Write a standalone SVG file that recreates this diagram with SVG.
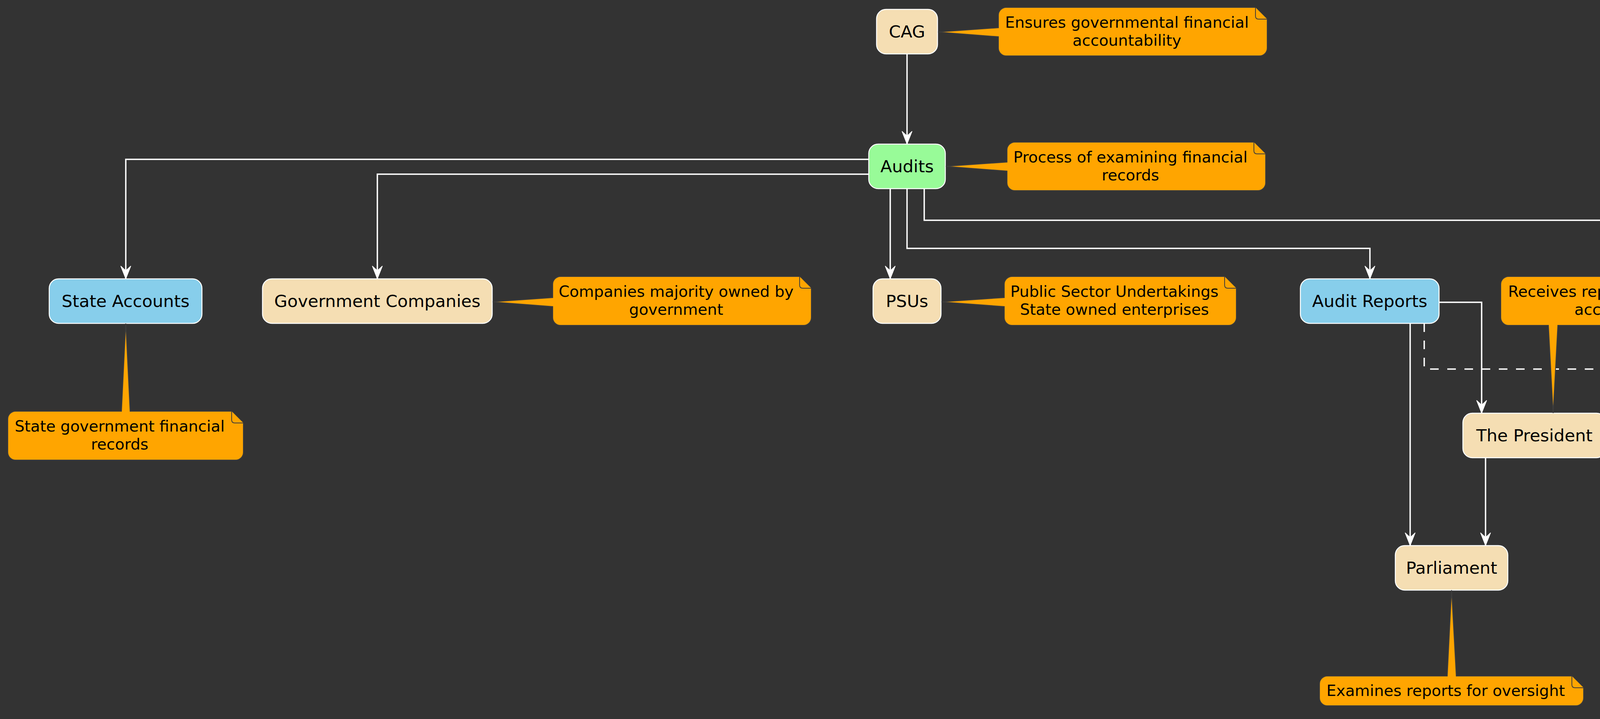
<svg xmlns="http://www.w3.org/2000/svg" width="5988" height="1841" viewBox="0 0 5988 1841">
<defs>
<style>
.node rect{stroke:#ffffff;stroke-width:2.5}
.node text{font-family:"DejaVu Sans","Liberation Sans",sans-serif;font-size:43.5px;fill:#000;text-anchor:middle}
.wheat{fill:#F5DEB3}
.sky{fill:#87CEEB}
.green{fill:#98FB98}
.note path.body{fill:#FFA500;stroke:#3d3d3d;stroke-width:2}
.note path.fold{fill:#FFA500;stroke:#3d3d3d;stroke-width:2}
.note text{font-family:"DejaVu Sans","Liberation Sans",sans-serif;font-size:39.5px;fill:#000;text-anchor:middle}
.edge{fill:none;stroke:#ffffff;stroke-width:3.5}
.dash{fill:none;stroke:#ffffff;stroke-width:3.5;stroke-dasharray:22 22}
</style>
<marker id="ah" markerUnits="userSpaceOnUse" markerWidth="38" markerHeight="32" viewBox="-36 -16 38 32" refX="0" refY="0" orient="auto">
<path d="M0,0 L-33,-13 L-21,0 L-33,13 Z" fill="#ffffff" stroke="#ffffff" stroke-width="1.5"/>
</marker>
</defs>
<rect x="0" y="0" width="5988" height="1841" fill="#333333"/>

<g id="connectors">
<path class="edge" d="M2322,138 L2322,369" marker-end="url(#ah)"/>
<path class="edge" d="M2224,408 L322,408 L322,714" marker-end="url(#ah)"/>
<path class="edge" d="M2224,446 L966,446 L966,714" marker-end="url(#ah)"/>
<path class="edge" d="M2279,483 L2279,714" marker-end="url(#ah)"/>
<path class="edge" d="M2322,483 L2322,636 L3507,636 L3507,714" marker-end="url(#ah)"/>
<path class="edge" d="M2366,483 L2366,564 L5565,564 L5565,714" marker-end="url(#ah)"/>
<path class="edge" d="M3684,774 L3793,774 L3793,1058" marker-end="url(#ah)"/>
<path class="edge" d="M3610,828 L3610,1397" marker-end="url(#ah)"/>
<path class="edge" d="M3803,1172 L3803,1397" marker-end="url(#ah)"/>
<path class="dash" d="M3646,828 L3646,945 L4929,945 L4929,833"/>
</g>

<g id="node-cag" class="node">
<rect class="wheat" x="2244" y="24" width="156" height="114" rx="24"/>
<text x="2322" y="96">CAG</text>
</g>
<g id="node-audits" class="node">
<rect class="green" x="2224" y="369" width="196" height="114" rx="24"/>
<text x="2322" y="441">Audits</text>
</g>
<g id="node-state-accounts" class="node">
<rect class="sky" x="126" y="714" width="391" height="114" rx="24"/>
<text x="321.5" y="786">State Accounts</text>
</g>
<g id="node-government-companies" class="node">
<rect class="wheat" x="672" y="714" width="588" height="114" rx="24"/>
<text x="966" y="786">Government Companies</text>
</g>
<g id="node-psus" class="node">
<rect class="wheat" x="2235" y="714" width="174" height="114" rx="24"/>
<text x="2322" y="786">PSUs</text>
</g>
<g id="node-audit-reports" class="node">
<rect class="sky" x="3329" y="714" width="355" height="114" rx="24"/>
<text x="3506.5" y="786">Audit Reports</text>
</g>
<g id="node-union-accounts" class="node">
<rect class="sky" x="5430" y="714" width="403" height="114" rx="24"/>
<text x="5631.5" y="786">Union Accounts</text>
</g>
<g id="node-president" class="node">
<rect class="wheat" x="3745" y="1058" width="366" height="114" rx="24"/>
<text x="3928" y="1130">The President</text>
</g>
<g id="node-parliament" class="node">
<rect class="wheat" x="3572" y="1397" width="288" height="114" rx="24"/>
<text x="3716" y="1469">Parliament</text>
</g>

<g id="note-cag" class="note">
<path class="body" d="M2576,19 L3214,19 L3244,49 L3244,123 A20,20 0 0 1 3224,143 L2576,143 A20,20 0 0 1 2556,123 L2556,94 L2401,82 L2556,71 L2556,39 A20,20 0 0 1 2576,19 Z"/>
<path class="fold" d="M3214,19 L3214,41 Q3214,49 3222,49 L3244,49"/>
<text x="2885" y="71">Ensures governmental financial</text>
<text x="2885" y="117">accountability</text>
</g>
<g id="note-audits" class="note">
<path class="body" d="M2598,364 L3210,364 L3240,394 L3240,468 A20,20 0 0 1 3220,488 L2598,488 A20,20 0 0 1 2578,468 L2578,438 L2421,426 L2578,415 L2578,384 A20,20 0 0 1 2598,364 Z"/>
<path class="fold" d="M3210,364 L3210,386 Q3210,394 3218,394 L3240,394"/>
<text x="2894" y="416">Process of examining financial</text>
<text x="2894" y="462">records</text>
</g>
<g id="note-government-companies" class="note">
<path class="body" d="M1435,708 L2047,708 L2077,738 L2077,813 A20,20 0 0 1 2057,833 L1435,833 A20,20 0 0 1 1415,813 L1415,785 L1261,773 L1415,762 L1415,728 A20,20 0 0 1 1435,708 Z"/>
<path class="fold" d="M2047,708 L2047,730 Q2047,738 2055,738 L2077,738"/>
<text x="1731" y="760">Companies majority owned by</text>
<text x="1731" y="806">government</text>
</g>
<g id="note-psus" class="note">
<path class="body" d="M2591,708 L3135,708 L3165,738 L3165,813 A20,20 0 0 1 3145,833 L2591,833 A20,20 0 0 1 2571,813 L2571,785 L2410,773 L2571,762 L2571,728 A20,20 0 0 1 2591,708 Z"/>
<path class="fold" d="M3135,708 L3135,730 Q3135,738 3143,738 L3165,738"/>
<text x="2853" y="760">Public Sector Undertakings</text>
<text x="2853" y="806">State owned enterprises</text>
</g>
<g id="note-state-accounts" class="note">
<path class="body" d="M40,1053 L311,1053 L322,828 L333,1053 L593,1053 L623,1083 L623,1158 A20,20 0 0 1 603,1178 L40,1178 A20,20 0 0 1 20,1158 L20,1073 A20,20 0 0 1 40,1053 Z"/>
<path class="fold" d="M593,1053 L593,1075 Q593,1083 601,1083 L623,1083"/>
<text x="306.5" y="1105">State government financial</text>
<text x="306.5" y="1151">records</text>
</g>
<g id="note-president" class="note">
<path class="body" d="M3862,708 L4397,708 L4427,738 L4427,813 A20,20 0 0 1 4407,833 L3988,833 L3976,1058 L3964,833 L3862,833 A20,20 0 0 1 3842,813 L3842,728 A20,20 0 0 1 3862,708 Z"/>
<path class="fold" d="M4397,708 L4397,730 Q4397,738 4405,738 L4427,738"/>
<text x="4119.5" y="760">Receives reports on Union</text>
<text x="4119.5" y="806">accounts</text>
</g>
<g id="note-audit-reports" class="note">
<path class="body" d="M4605,708 L5243,708 L5273,738 L5273,813 A20,20 0 0 1 5253,833 L4605,833 A20,20 0 0 1 4585,813 L4585,728 A20,20 0 0 1 4605,708 Z"/>
<path class="fold" d="M5243,708 L5243,730 Q5243,738 5251,738 L5273,738"/>
<text x="4914" y="760">Findings and observations from</text>
<text x="4914" y="806">audits</text>
</g>
<g id="note-union-accounts" class="note">
<path class="body" d="M5331,364 L5922,364 L5952,394 L5952,468 A20,20 0 0 1 5932,488 L5710,488 L5698,714 L5688,488 L5331,488 A20,20 0 0 1 5311,468 L5311,384 A20,20 0 0 1 5331,364 Z"/>
<path class="fold" d="M5922,364 L5922,386 Q5922,394 5930,394 L5952,394"/>
<text x="5616.5" y="416">Federal government financial</text>
<text x="5616.5" y="462">records</text>
</g>
<g id="note-parliament" class="note">
<path class="body" d="M3398,1731 L3705,1731 L3716,1511 L3728,1731 L4024,1731 L4054,1761 L4054,1787 A20,20 0 0 1 4034,1807 L3398,1807 A20,20 0 0 1 3378,1787 L3378,1751 A20,20 0 0 1 3398,1731 Z"/>
<path class="fold" d="M4024,1731 L4024,1753 Q4024,1761 4032,1761 L4054,1761"/>
<text x="3701" y="1782">Examines reports for oversight</text>
</g>
</svg>
